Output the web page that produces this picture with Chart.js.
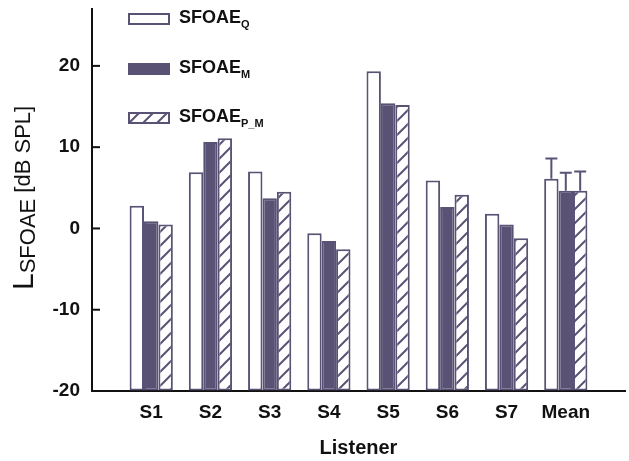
<!DOCTYPE html>
<html>
<head>
<meta charset="utf-8">
<script src="https://cdn.jsdelivr.net/npm/chart.js@4/dist/chart.umd.min.js"></script>
<style>
  html, body { margin: 0; padding: 0; background: #ffffff; }
  #wrap { width: 629px; height: 461px; }
</style>
</head>
<body>
<div id="wrap"><canvas id="c" width="629" height="461"></canvas></div>
<script>
// Listener categories and SFOAE levels (dB SPL)
const listeners = ['S1', 'S2', 'S3', 'S4', 'S5', 'S6', 'S7', 'Mean'];
const sfoaeQ  = [2.8, 6.9, 7.0, -0.6, 19.35, 5.9, 1.8, 6.1];
const sfoaeM  = [0.9, 10.65, 3.7, -1.55, 15.4, 2.65, 0.5, 4.65];
const sfoaePM = [0.5, 11.1, 4.5, -2.55, 15.2, 4.15, -1.2, 4.65];
// upward error bars on the Mean group (Q, M, P_M)
const meanErr = [2.5, 2.2, 2.35];
const seriesSubs = ['Q', 'M', 'P_M'];
const yTicks = [-20, -10, 0, 10, 20];

const INK = '#5a5275';
const FONT = "'Liberation Sans', Arial, Helvetica, sans-serif";

function hatchPattern(ctx) {
  const s = 14;
  const c = document.createElement('canvas');
  c.width = s; c.height = s;
  const g = c.getContext('2d');
  g.fillStyle = '#ffffff';
  g.fillRect(0, 0, s, s);
  g.strokeStyle = INK;
  g.lineWidth = 2;
  g.beginPath();
  g.moveTo(-2, s + 2); g.lineTo(s + 2, -2);
  g.moveTo(-2 - s, s + 2); g.lineTo(2, -2);
  g.moveTo(s - 2, s + 2); g.lineTo(2 * s + 2, -2);
  g.stroke();
  return ctx.createPattern(c, 'repeat');
}

const canvas = document.getElementById('c');
const ctx = canvas.getContext('2d');
const hatch = hatchPattern(ctx);

const toPoints = arr => arr.map((v, i) => ({ x: i + 1, y: v }));

const seriesData = [sfoaeQ, sfoaeM, sfoaePM];
const fills = ['#ffffff', INK, hatch];

const datasets = seriesData.map((arr, k) => ({
  label: 'SFOAE_' + seriesSubs[k],
  data: toPoints(arr),
  base: -20,
  backgroundColor: fills[k],
  borderColor: INK,
  borderWidth: 2,
  borderSkipped: false,
  categoryPercentage: 0.73,
  barPercentage: 1.0
}));

// inward y ticks, mean error bars, legend, axis titles
const decorations = {
  id: 'decorations',
  afterDatasetsDraw(chart) {
    const c = chart.ctx;
    const ys = chart.scales.y;
    const area = chart.chartArea;

    // error bars on the last group
    c.save();
    c.strokeStyle = INK;
    c.lineWidth = 2;
    datasets.forEach((ds, k) => {
      const meta = chart.getDatasetMeta(k);
      const el = meta.data[meta.data.length - 1];
      const v = seriesData[k][seriesData[k].length - 1];
      const yTop = ys.getPixelForValue(v + meanErr[k]);
      const yBar = ys.getPixelForValue(v);
      c.beginPath();
      c.moveTo(el.x, yBar);
      c.lineTo(el.x, yTop);
      c.moveTo(el.x - 6, yTop);
      c.lineTo(el.x + 6, yTop);
      c.stroke();
    });
    c.restore();

    // tick marks pointing into the plot
    c.save();
    c.strokeStyle = '#111111';
    c.lineWidth = 2;
    yTicks.forEach(v => {
      const y = ys.getPixelForValue(v);
      c.beginPath();
      c.moveTo(area.left, y);
      c.lineTo(area.left + 8, y);
      c.stroke();
    });
    c.restore();

    // legend
    c.save();
    const lx = area.left + 36, tx = area.left + 87;
    const rowY = [area.top + 4, area.top + 54, area.top + 103];
    seriesSubs.forEach((sub, k) => {
      const y = rowY[k];
      c.fillStyle = fills[k];
      c.fillRect(lx, y, 42, 12);
      c.strokeStyle = INK;
      c.lineWidth = 2;
      c.strokeRect(lx + 1, y + 1, 40, 10);
      c.fillStyle = '#111111';
      c.textBaseline = 'alphabetic';
      c.textAlign = 'left';
      c.font = 'bold 18px ' + FONT;
      c.fillText('SFOAE', tx, y + 10);
      const w = c.measureText('SFOAE').width;
      c.font = 'bold 11px ' + FONT;
      c.fillText(sub, tx + w, y + 15);
    });
    c.restore();

    // x title
    c.save();
    c.fillStyle = '#111111';
    c.font = 'bold 20px ' + FONT;
    c.textAlign = 'center';
    c.textBaseline = 'middle';
    c.fillText('Listener', (area.left + area.right) / 2, 448);
    c.restore();

    // y title: L with SFOAE subscript, rotated
    c.save();
    c.translate(33, 290);
    c.rotate(-Math.PI / 2);
    c.fillStyle = '#111111';
    c.textAlign = 'left';
    c.textBaseline = 'alphabetic';
    c.font = '30px ' + FONT;
    c.fillText('L', 0, 0);
    let x = c.measureText('L').width;
    c.font = '22px ' + FONT;
    c.fillText('SFOAE', x, 2);
    x += c.measureText('SFOAE').width;
    c.font = '22px ' + FONT;
    c.fillText(' [dB SPL]', x, -3);
    c.restore();
  }
};

new Chart(ctx, {
  type: 'bar',
  data: { datasets },
  options: {
    responsive: false,
    animation: false,
    layout: { padding: { top: 9, right: 4, left: 0, bottom: 0 } },
    plugins: { legend: { display: false }, tooltip: { enabled: false } },
    scales: {
      x: {
        type: 'linear',
        offset: false,
        min: 0,
        max: 9,
        afterBuildTicks: s => { s.ticks = listeners.map((_, i) => ({ value: i + 1 })); },
        afterFit: s => { s.height = 70; s.paddingLeft = 0; s.paddingRight = 0; },
        grid: { display: false, drawTicks: false, offset: false },
        border: { display: true, color: '#111111', width: 2 },
        ticks: {
          padding: 10,
          color: '#111111',
          font: { family: FONT, size: 19, weight: 'bold' },
          maxRotation: 0,
          autoSkip: false,
          callback: v => listeners[v - 1] || ''
        }
      },
      y: {
        min: -20,
        max: 27,
        afterBuildTicks: s => { s.ticks = yTicks.map(v => ({ value: v })); },
        afterFit: s => { s.width = 92; s.paddingTop = 0; s.paddingBottom = 0; },
        grid: { drawOnChartArea: false, drawTicks: false },
        border: { display: true, color: '#111111', width: 2 },
        ticks: {
          padding: 12,
          color: '#111111',
          font: { family: FONT, size: 19, weight: 'bold' }
        }
      }
    }
  },
  plugins: [decorations]
});
</script>
</body>
</html>
